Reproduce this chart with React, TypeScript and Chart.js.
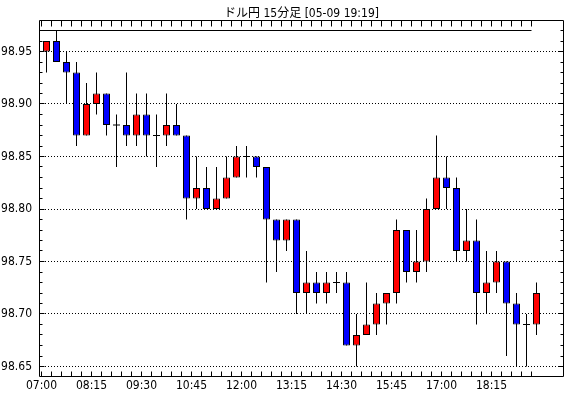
import React, { useEffect, useRef } from "react";
import { Chart, registerables } from "chart.js";

Chart.register(...registerables);

const times = [
  "07:00", "07:15", "07:30", "07:45", "08:00", "08:15", "08:30", "08:45", "09:00", "09:15",
  "09:30", "09:45", "10:00", "10:15", "10:30", "10:45", "11:00", "11:15", "11:30", "11:45",
  "12:00", "12:15", "12:30", "12:45", "13:00", "13:15", "13:30", "13:45", "14:00", "14:15",
  "14:30", "14:45", "15:00", "15:15", "15:30", "15:45", "16:00", "16:15", "16:30", "16:45",
  "17:00", "17:15", "17:30", "17:45", "18:00", "18:15", "18:30", "18:45", "19:00", "19:15",
];

const opens = [
  98.95, 98.96, 98.94, 98.93, 98.87, 98.90, 98.91, 98.88, 98.88, 98.87,
  98.89, 98.87, 98.87, 98.88, 98.87, 98.81, 98.82, 98.80, 98.81, 98.83,
  98.85, 98.85, 98.84, 98.79, 98.77, 98.79, 98.72, 98.73, 98.72, 98.73,
  98.73, 98.67, 98.68, 98.69, 98.71, 98.72, 98.78, 98.74, 98.75, 98.80,
  98.83, 98.82, 98.76, 98.77, 98.72, 98.73, 98.75, 98.71, 98.69, 98.69,
];
const highs = [
  98.96, 98.97, 98.95, 98.94, 98.92, 98.93, 98.91, 98.89, 98.93, 98.91,
  98.91, 98.89, 98.91, 98.90, 98.87, 98.85, 98.84, 98.84, 98.85, 98.86,
  98.86, 98.85, 98.84, 98.79, 98.79, 98.79, 98.76, 98.74, 98.74, 98.74,
  98.74, 98.70, 98.73, 98.72, 98.72, 98.79, 98.78, 98.78, 98.81, 98.87,
  98.85, 98.83, 98.80, 98.79, 98.76, 98.76, 98.75, 98.72, 98.70, 98.73,
];
const lows = [
  98.93, 98.94, 98.90, 98.86, 98.87, 98.89, 98.87, 98.84, 98.86, 98.86,
  98.85, 98.84, 98.86, 98.87, 98.79, 98.80, 98.80, 98.80, 98.81, 98.83,
  98.83, 98.83, 98.73, 98.74, 98.76, 98.70, 98.70, 98.71, 98.71, 98.72,
  98.67, 98.65, 98.68, 98.68, 98.69, 98.71, 98.73, 98.73, 98.74, 98.80,
  98.80, 98.75, 98.75, 98.69, 98.70, 98.72, 98.66, 98.65, 98.65, 98.68,
];
const closes = [
  98.96, 98.94, 98.93, 98.87, 98.90, 98.91, 98.88, 98.88, 98.87, 98.89,
  98.87, 98.87, 98.88, 98.87, 98.81, 98.82, 98.80, 98.81, 98.83, 98.85,
  98.85, 98.84, 98.79, 98.77, 98.79, 98.72, 98.73, 98.72, 98.73, 98.73,
  98.67, 98.68, 98.69, 98.71, 98.72, 98.78, 98.74, 98.75, 98.80, 98.83,
  98.82, 98.76, 98.77, 98.72, 98.73, 98.75, 98.71, 98.69, 98.69, 98.72,
];

const yTickLabels = ["98.65", "98.70", "98.75", "98.80", "98.85", "98.90", "98.95"];
const titleText = "ドル円 15分足 [05-09 19:19]";

const FONT = "'Liberation Sans Narrow', 'DejaVu Sans Condensed', 'Liberation Sans', 'Noto Sans CJK JP', sans-serif";

const framePlugin = {
  id: "frameTicks",
  afterDatasetsDraw(chart: any) {
    const { ctx, chartArea: a, scales } = chart;
    const xs = scales.x;
    const ys = scales.y;
    const L = Math.round(a.left) + 0.5;
    const R = Math.round(a.right) - 0.5;
    const T = Math.round(a.top) + 0.5;
    const B = Math.round(a.bottom) - 0.5;
    ctx.save();
    ctx.strokeStyle = "#000";
    ctx.lineWidth = 1;
    ctx.beginPath();
    ctx.rect(L, T, R - L, B - T);
    // x tick marks (every candle slot), inward on top and bottom
    for (let i = 0; i < times.length; i++) {
      const px = Math.round(xs.getPixelForValue(i) - 0.5) + 0.5;
      ctx.moveTo(px, B);
      ctx.lineTo(px, B - 5);
      ctx.moveTo(px, T);
      ctx.lineTo(px, T + 6);
    }
    // y tick marks every 0.01, inward on left and right
    for (let c = 9865; c <= 9897; c++) {
      const v = c / 100;
      const py = Math.round(ys.getPixelForValue(v) - 0.5) + 0.5;
      const len = c % 5 === 0 ? 5 : 3;
      ctx.moveTo(L, py);
      ctx.lineTo(L + len, py);
      ctx.moveTo(R, py);
      ctx.lineTo(R - len, py);
    }
    ctx.stroke();
    ctx.restore();
  },
};

export default function App() {
  const ref = useRef<HTMLCanvasElement | null>(null);

  useEffect(() => {
    const canvas = ref.current;
    if (!canvas) return;

    const bodyIdx = opens.map((_, i) => i).filter((i) => opens[i] !== closes[i]);
    const dojiIdx = opens.map((_, i) => i).filter((i) => opens[i] === closes[i]);
    const maxHigh = Math.max(...highs);

    const chart = new Chart(canvas, {
      type: "bar",
      data: {
        datasets: [
          {
            type: "bar",
            data: bodyIdx.map((i) => ({ x: i + 0.5, y: [opens[i], closes[i]] })) as any,
            backgroundColor: bodyIdx.map((i) => (closes[i] > opens[i] ? "#ff0000" : "#0000ff")),
            borderColor: "#000",
            borderWidth: 1,
            borderSkipped: false,
            barThickness: 7,
            grouped: false,
            inflateAmount: 0,
          } as any,
          {
            type: "line",
            data: dojiIdx.map((i) => ({ x: i + 0.5, y: opens[i] })),
            showLine: false,
            pointStyle: "line",
            pointRadius: 3.5,
            pointBorderColor: "#000",
            pointBorderWidth: 1,
            borderColor: "#000",
          } as any,
          {
            type: "line",
            data: [
              { x: 0, y: maxHigh },
              { x: times.length - 1, y: maxHigh },
            ],
            borderColor: "#000",
            borderWidth: 1,
            pointRadius: 0,
          } as any,
          {
            type: "bar",
            data: highs.map((h, i) => ({ x: i + 0.5, y: [lows[i], h] })) as any,
            backgroundColor: "#000",
            borderWidth: 0,
            barThickness: 1,
            grouped: false,
            inflateAmount: 0,
          } as any,
        ],
      },
      options: {
        animation: false,
        responsive: false,
        events: [],
        layout: { padding: { left: 0, right: 6, top: 0, bottom: 0 } },
        plugins: {
          legend: { display: false },
          tooltip: { enabled: false },
          title: {
            display: true,
            text: titleText,
            color: "#000",
            fullSize: false,
            font: { family: FONT, size: 12, weight: "normal", lineHeight: 1 },
            padding: { top: 7.5, bottom: 0.5 },
          },
        },
        scales: {
          x: {
            type: "linear",
            offset: false,
            min: -0.25,
            max: 52.25,
            grid: { display: false, drawTicks: false },
            border: { display: false },
            afterBuildTicks: (scale: any) => {
              scale.ticks = times
                .map((_, i) => i)
                .filter((i) => i % 5 === 0)
                .map((i) => ({ value: i }));
            },
            afterFit: (scale: any) => {
              scale.height = 21;
            },
            ticks: {
              autoSkip: false,
              maxRotation: 0,
              color: "#000",
              padding: 2,
              font: { family: FONT, size: 12 },
              callback: (v: any) => times[Number(v)] ?? "",
            },
          },
          y: {
            type: "linear",
            position: "left",
            min: 98.64,
            max: 98.98,
            beginAtZero: false,
            border: { display: false },
            grid: {
              color: "#000",
              lineWidth: 1,
              drawTicks: false,
              tickBorderDash: [],
            },
            afterBuildTicks: (scale: any) => {
              scale.ticks = yTickLabels.map((s) => ({ value: parseFloat(s) }));
            },
            afterFit: (scale: any) => {
              scale.width = 39;
            },
            ticks: {
              autoSkip: false,
              color: "#000",
              padding: 7,
              font: { family: FONT, size: 12 },
              callback: (v: any) => {
                const idx = yTickLabels.findIndex((s) => Math.abs(parseFloat(s) - Number(v)) < 1e-6);
                return idx >= 0 ? yTickLabels[idx] : "";
              },
            },
          },
        },
      } as any,
      plugins: [framePlugin],
    });
    // dotted grid lines
    (chart.options.scales as any).y.border = { display: false, dash: [1, 2] };
    chart.update();

    return () => chart.destroy();
  }, []);

  return (
    <div style={{ position: "absolute", left: 0, top: 0, width: 570, height: 398, background: "#fff" }}>
      <canvas ref={ref} width={570} height={398} style={{ display: "block" }} />
    </div>
  );
}
